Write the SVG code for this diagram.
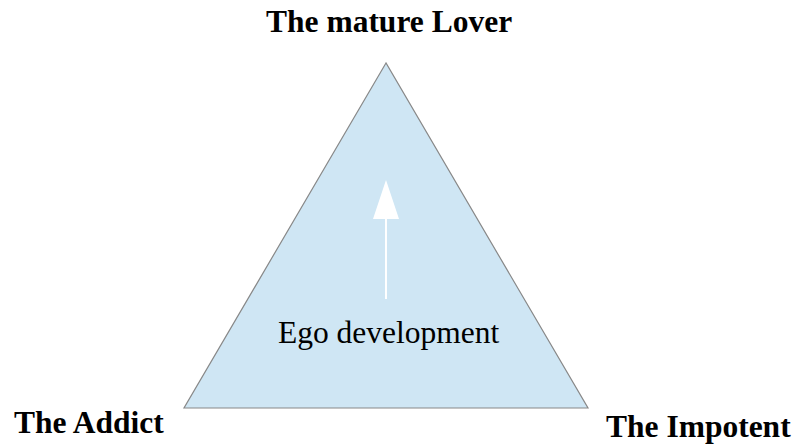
<svg xmlns="http://www.w3.org/2000/svg" width="795" height="445" viewBox="0 0 795 445">
<style>
.lbl{font-family:"Liberation Serif","Times New Roman",serif;font-weight:bold;font-size:31.5px;fill:#000}
.inner{font-family:"Liberation Serif","Times New Roman",serif;font-size:31.5px;fill:#000}
</style>
<rect width="795" height="445" fill="#fff"/>
<g id="triangle">
<polygon points="386,63 184,408 588,408" fill="#cfe6f4" stroke="#888" stroke-width="1.2"/>
</g>
<g id="connectors">
<line x1="386" y1="299" x2="386" y2="218" stroke="#fff" stroke-width="2"/>
<polygon points="386,180 399,219 373,219" fill="#fff"/>
</g>
<g id="top"><text class="lbl" x="266" y="32">The mature Lover</text></g>
<g id="left"><text class="lbl" x="14" y="433">The Addict</text></g>
<g id="right"><text class="lbl" x="606" y="437" font-size="31">The Impotent</text></g>
<g id="center"><text class="inner" x="278" y="343">Ego development</text></g>
</svg>
